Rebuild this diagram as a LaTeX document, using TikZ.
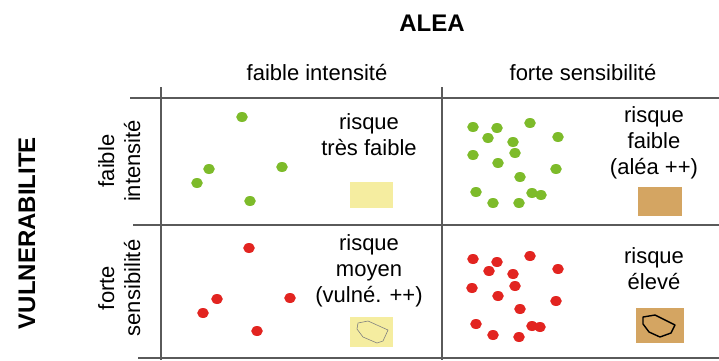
\documentclass[tikz,border=0pt]{standalone}
\usepackage{fontspec}
\setmainfont{Liberation Sans}
\usetikzlibrary{positioning}
\definecolor{dotgreen}{HTML}{7DBB2A}
\definecolor{dotred}{HTML}{E22420}
\definecolor{paleyellow}{HTML}{F5EDA0}
\definecolor{tanbrown}{HTML}{D4A562}
\definecolor{gridgray}{HTML}{5A5A5A}

\begin{document}
\begin{tikzpicture}[
    x=1pt, y=-1pt,
    txt/.style={font=\fontsize{22}{26}\selectfont, align=center, anchor=base, inner sep=0pt},
    heading/.style={font=\fontsize{24}{28}\selectfont\bfseries, anchor=base, inner sep=0pt},
    gridline/.style={draw=gridgray, line width=1.3pt},
    greendot/.style={fill=dotgreen},
    reddot/.style={fill=dotred}
]
\useasboundingbox (0,0) rectangle (719,360);
% titles
\node[heading] (alea) at (432,31) {ALEA};
\node[heading, rotate=90] (vulner) at (35,233) {VULNERABILITE};
\node[txt] (colweak) at (317,80) {faible intensité};
\node[txt] (colstrong) at (583,80) {forte sensibilité};
\node[txt, rotate=90] (rowweak) at (140,161) {faible\\intensité};
\node[txt, rotate=90] (rowstrong) at (140,288) {forte\\sensibilité};
% grid
\draw[gridline] (130,98) -- (719,98);
\draw[gridline] (133,225) -- (719,225);
\draw[gridline] (138,358) -- (719,358);
\draw[gridline] (161,87) -- (161,360);
\draw[gridline] (442,87) -- (442,360);
% dots
\foreach \px/\py in {242/117, 209/169, 197/183, 282/167, 250/201}
    \fill[greendot] (\px,\py) ellipse (5.8 and 5);
\foreach \px/\py in {473/127, 497/128, 488/138, 530/123, 513/142, 558/137, 473/155, 515/153,
    498/163, 556/169, 520/177, 476/192, 532/193, 541/195, 493/203, 519/203}
    \fill[greendot] (\px,\py) ellipse (5.8 and 5);
\foreach \px/\py in {249/248, 217/299, 203/313, 290/298, 257/331}
    \fill[reddot] (\px,\py) ellipse (5.8 and 5);
\foreach \px/\py in {473/259, 497/262, 489/271, 530/256, 513/274, 558/269, 472/288, 515/286,
    498/296, 556/301, 520/309, 476/324, 532/326, 540/327, 493/335, 519/337}
    \fill[reddot] (\px,\py) ellipse (5.8 and 5);
% cell texts
\node[txt] (verylow) at (369,155) {risque\\très faible};
\node[txt] (low) at (654,174) {risque\\faible\\(aléa ++)};
\node[txt] (medium) at (369,302) {risque\\moyen\\(vulné. ++)};
\node[txt] (high) at (654,289) {risque\\élevé};
% swatches
\fill[paleyellow] (350,182) rectangle (393,208);
\fill[tanbrown] (638,187) rectangle (682,216);
\fill[paleyellow] (350,317) rectangle (393,347);
\draw[gray, line width=0.6pt] (358,323) -- (368,321) -- (388,330) -- (383,341) -- (377,343) -- (363,337) -- (357,329) -- cycle;
\fill[tanbrown] (636,308) rectangle (684,343);
\draw[black, line width=1.4pt, line join=round] (643,317) -- (655,315) -- (675,325) -- (671,333) -- (660,337) -- (649,332) -- (643,324) -- cycle;
\end{tikzpicture}
\end{document}
